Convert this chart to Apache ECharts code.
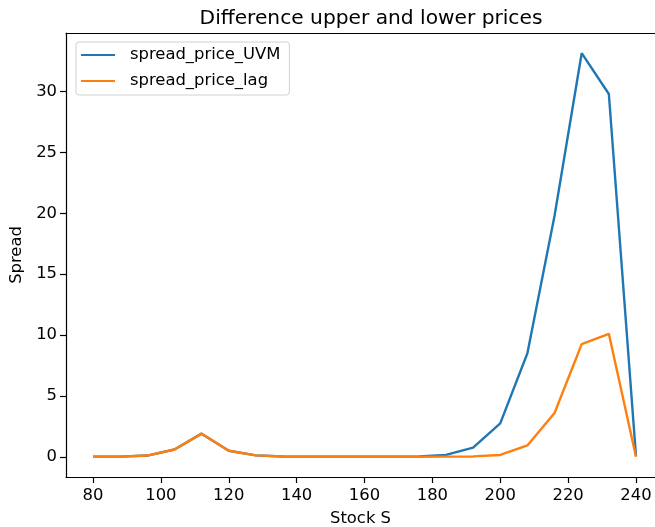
<!DOCTYPE html>
<html>
<head>
<meta charset="utf-8">
<script src="https://cdn.jsdelivr.net/npm/echarts@6/dist/echarts.min.js"></script>
<style>
html,body{margin:0;padding:0;background:#fff;}
#chart{width:655px;height:527px;}
</style>
</head>
<body>
<div id="chart"></div>
<script>
const stockS = [80, 88, 96, 104, 112, 120, 128, 136, 144, 152, 160, 168, 176, 184, 192, 200, 208, 216, 224, 232, 240];
const spreadUVM = [0.0, 0.01, 0.1, 0.6, 1.9, 0.5, 0.12, 0.02, 0, 0, 0, 0, 0.03, 0.15, 0.75, 2.75, 8.5, 19.8, 33.15, 29.8, 0.05];
const spreadLag = [0.0, 0.01, 0.1, 0.6, 1.9, 0.5, 0.12, 0.02, 0, 0, 0, 0, 0, 0.01, 0.03, 0.15, 0.93, 3.6, 9.25, 10.1, 0.0];
const xTicks = [80, 100, 120, 140, 160, 180, 200, 220, 240];
const yTicks = [0, 5, 10, 15, 20, 25, 30];

const font = 'DejaVu Sans';
const fs = 16.4;
const chart = echarts.init(document.getElementById('chart'), null, {renderer: 'canvas'});
const pairs = (ys) => stockS.map((x, i) => [x, ys[i]]);

chart.setOption({
  animation: false,
  backgroundColor: '#fff',
  title: {
    text: 'Difference upper and lower prices',
    left: 366, top: 4, textAlign: 'center',
    textStyle: {fontFamily: font, fontSize: 20.2, fontWeight: 'normal', color: '#000'}
  },
  legend: {
    orient: 'vertical', left: 76, top: 42,
    padding: [5, 9, 6, 5],
    borderColor: '#d0d0d0', borderWidth: 1, borderRadius: 3,
    backgroundColor: 'rgba(255,255,255,0.8)',
    icon: 'rect', itemWidth: 34, itemHeight: 2, itemGap: 10,
    textStyle: {fontFamily: font, fontSize: fs, color: '#000', padding: [0, 0, 0, 10]},
    data: ['spread_price_UVM', 'spread_price_lag']
  },
  grid: {
    left: 66, right: 0, top: 33, bottom: 50,
    show: false, containLabel: false, outerBoundsMode: 'none'
  },
  xAxis: [{
    type: 'value', min: 72.04, max: 245.6,
    name: 'Stock S', nameLocation: 'middle', nameGap: 34,
    nameTextStyle: {fontFamily: font, fontSize: fs, color: '#000'},
    axisLine: {show: true, onZero: false, lineStyle: {color: '#000', width: 1.2}},
    axisTick: {show: true, length: 6, customValues: xTicks, lineStyle: {color: '#000', width: 1.2}},
    axisLabel: {customValues: xTicks, margin: 11, fontFamily: font, fontSize: fs, color: '#000'},
    splitLine: {show: false}
  }, {
    type: 'value', position: 'top', min: 72.04, max: 245.6,
    axisLine: {show: true, onZero: false, lineStyle: {color: '#000', width: 1.2}},
    axisTick: {show: false}, axisLabel: {show: false}, splitLine: {show: false}
  }],
  yAxis: {
    type: 'value', min: -1.66, max: 34.81,
    name: 'Spread', nameLocation: 'middle', nameGap: 39,
    nameTextStyle: {fontFamily: font, fontSize: fs, color: '#000'},
    axisLine: {show: true, onZero: false, lineStyle: {color: '#000', width: 1.2}},
    axisTick: {show: true, length: 6, customValues: yTicks, lineStyle: {color: '#000', width: 1.2}},
    axisLabel: {customValues: yTicks, margin: 9, fontFamily: font, fontSize: fs, color: '#000'},
    splitLine: {show: false}
  },
  series: [
    {
      name: 'spread_price_UVM', type: 'line', data: pairs(spreadUVM),
      symbol: 'none', color: '#1f77b4',
      lineStyle: {color: '#1f77b4', width: 2.4}, z: 2
    },
    {
      name: 'spread_price_lag', type: 'line', data: pairs(spreadLag),
      symbol: 'none', color: '#ff7f0e',
      lineStyle: {color: '#ff7f0e', width: 2.4}, z: 3
    }
  ]
});
</script>
</body>
</html>
